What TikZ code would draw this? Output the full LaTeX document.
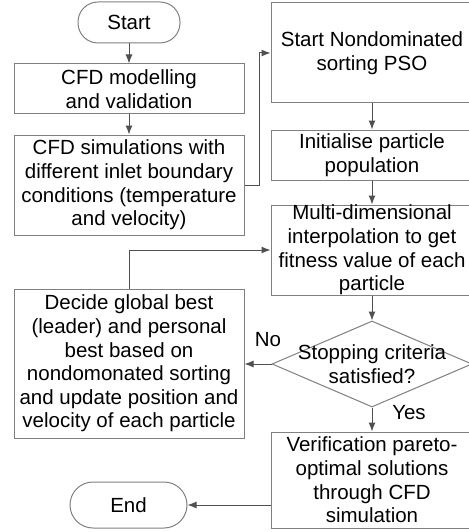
\documentclass[tikz,border=0pt]{standalone}
\usepackage{fontspec}
\setmainfont{Liberation Sans}
\usetikzlibrary{shapes.geometric,arrows.meta}
\definecolor{boxgray}{HTML}{808080}
\definecolor{linegray}{HTML}{505050}
\begin{document}
\begin{tikzpicture}[x=1pt,y=-1pt,
  every node/.style={font=\fontsize{20.5}{23.6}\selectfont, align=center, inner sep=0pt},
  procbox/.style={draw=boxgray, line width=1pt, rectangle},
  termbox/.style={draw=boxgray, line width=1pt, rectangle, rounded corners=20pt},
  conn/.style={draw=linegray, line width=1pt, -{Latex[length=9pt,width=7pt]}},
  lbl/.style={font=\fontsize{20.5}{23.6}\selectfont}
]
\useasboundingbox (0,0) rectangle (468,532);

% left column
\node[termbox, minimum width=102pt, minimum height=41pt] (start) at (129,22.5) {Start};
\node[procbox, minimum width=230pt, minimum height=50pt] (model) at (129,89) {CFD modelling\\and validation};
\node[procbox, minimum width=230pt, minimum height=100pt] (sim) at (129,185) {CFD simulations with\\different inlet boundary\\conditions (temperature\\and velocity)};
\node[procbox, minimum width=230pt, minimum height=149pt] (decide) at (129,363.5) {Decide global best\\(leader) and personal\\best based on\\nondomonated sorting\\and update position and\\velocity of each particle};
\node[termbox, rounded corners=23pt, minimum width=117pt, minimum height=46pt] (end) at (128.5,505) {End};

% right column
\node[procbox, minimum width=202pt, minimum height=100pt] (nspso) at (372,53) {Start Nondominated\\sorting PSO};
\node[procbox, minimum width=202pt, minimum height=50pt] (init) at (372,155) {Initialise particle\\population};
\node[procbox, minimum width=202pt, minimum height=90pt] (multi) at (372,250) {Multi-dimensional\\interpolation to get\\fitness value of each\\particle};
\node[diamond, draw=boxgray, line width=1pt, minimum width=200pt, minimum height=86pt] (stop) at (372,364) {};
\node (stoptext) at (stop.center) {Stopping criteria\\satisfied?};
\node[procbox, minimum width=202pt, minimum height=96pt] (verif) at (372,480) {Verification pareto-\\optimal solutions\\through CFD\\simulation};

% labels
\node[lbl] (nolbl) at (268,340) {No};
\node[lbl] (yeslbl) at (409,413) {Yes};

% connectors
\draw[conn] (start.south) -- (model.north);
\draw[conn] (model.south) -- (sim.north);
\draw[conn] (sim.east) -- ++(15,0) |- (nspso.west);
\draw[conn] (nspso.south) -- (init.north);
\draw[conn] (init.south) -- (multi.north);
\draw[conn] (multi.south) -- (stop.north);
\draw[conn] (stop.south) -- (verif.north);
\draw[conn] (stop.west) -- (stop.west -| decide.east);
\draw[conn] (decide.north) |- (multi.west);
\draw[conn] (verif.west |- end.east) -- (end.east);
\end{tikzpicture}
\end{document}
